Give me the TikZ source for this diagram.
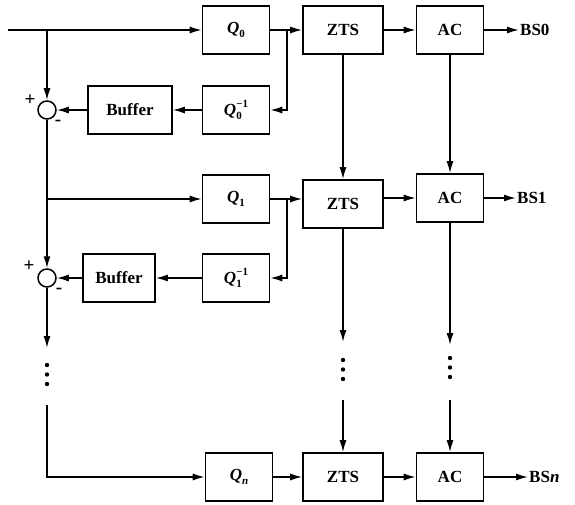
\documentclass[tikz,border=0pt]{standalone}
\usepackage{fontspec}
\setmainfont{Liberation Serif}
\usetikzlibrary{arrows.meta}
\newcommand{\scr}[1]{{\fontsize{11}{11}\selectfont #1}}
\newcommand{\qsub}[1]{\textit{Q}\raisebox{-0.5ex}{\scr{#1}}}
\newcommand{\qinv}[1]{\textit{Q}\rlap{\raisebox{-0.5ex}{\scr{#1}}}\raisebox{0.95ex}{\scr{−1}}}

\begin{document}
\begin{tikzpicture}[x=1pt,y=-1pt,
  blk/.style={draw,line width=1.6pt,minimum height=48pt,inner sep=0pt,
    font=\fontsize{17}{17}\selectfont\bfseries},
  sumc/.style={draw,circle,line width=1.5pt,minimum size=18pt,inner sep=0pt},
  arr/.style={line width=1.5pt,-{Latex[length=12pt,width=7pt]}},
  lbl/.style={right,inner sep=1pt,font=\fontsize{17}{17}\selectfont\bfseries},
  sgn/.style={inner sep=0pt,font=\fontsize{19}{19}\selectfont\bfseries}]
  \useasboundingbox (0,0) rectangle (575,505);
  % 第 0 层
  \node[blk,minimum width=67pt] (Q0) at (236,30) {\qsub{0}};
  \node[blk,minimum width=80pt] (Z0) at (343,30) {ZTS};
  \node[blk,minimum width=67pt] (A0) at (450,30) {AC};
  \node[lbl] (B0) at (519,30) {BS0};
  \node[blk,minimum width=67pt] (Qi0) at (236,110) {\qinv{0}};
  \node[blk,minimum width=84pt] (F0) at (130,110) {Buffer};
  \node[sumc] (S0) at (47,110) {};
  \node[sgn] (p0) at (30,100) {+};
  \node[sgn] (m0) at (58,123) {-};
  \coordinate (in) at (8,30);
  \coordinate (j0) at (47,30);
  \coordinate (k0) at (287,30);
  \draw[arr] (in) -- (Q0);
  \draw[arr] (j0) -- (S0);
  \draw[arr] (Q0) -- (Z0);
  \draw[arr] (Z0) -- (A0);
  \draw[arr] (A0) -- (B0);
  \draw[arr] (k0) |- (Qi0);
  \draw[arr] (Qi0) -- (F0);
  \draw[arr] (F0) -- (S0);
  % 第 1 层
  \node[blk,minimum width=67pt] (Q1) at (236,199) {\qsub{1}};
  \node[blk,minimum width=80pt] (Z1) at (343,204) {ZTS};
  \node[blk,minimum width=67pt] (A1) at (450,198) {AC};
  \node[lbl] (B1) at (516,198) {BS1};
  \node[blk,minimum width=67pt] (Qi1) at (236,278) {\qinv{1}};
  \node[blk,minimum width=72pt] (F1) at (119,278) {Buffer};
  \node[sumc] (S1) at (47,278) {};
  \node[sgn] (p1) at (29,266) {+};
  \node[sgn] (m1) at (59,291) {-};
  \coordinate (j1) at (47,199);
  \coordinate (k1) at (287,199);
  \draw[arr] (S0) -- (S1);
  \draw[arr] (j1) -- (Q1);
  \draw[arr] (Q1) -- (Q1 -| Z1.west);
  \draw[arr] (Z1.east |- A1) -- (A1);
  \draw[arr] (A1) -- (B1);
  \draw[arr] (k1) |- (Qi1);
  \draw[arr] (Qi1) -- (F1);
  \draw[arr] (F1) -- (S1);
  % 层间竖线
  \draw[arr] (Z0) -- (Z1);
  \draw[arr] (A0) -- (A1);
  % 省略号
  \coordinate (d0) at (47,348);
  \coordinate (d1) at (343,342);
  \coordinate (d2) at (450,345);
  \draw[arr] (S1) -- (d0);
  \draw[arr] (Z1) -- (d1);
  \draw[arr] (A1) -- (d2);
  \foreach \x/\y in {47/365, 343/360, 450/358}
    \foreach \k in {0,1,2}
      \fill (\x,\y+9.5*\k) circle (2.2pt);
  % 第 n 层
  \coordinate (u0) at (47,405);
  \coordinate (u1) at (343,400);
  \coordinate (u2) at (450,400);
  \node[blk,minimum width=67pt] (Qn) at (239,477) {\qsub{\textit{n}}};
  \node[blk,minimum width=80pt] (Zn) at (343,477) {ZTS};
  \node[blk,minimum width=67pt] (An) at (450,477) {AC};
  \node[lbl] (Bn) at (528,477) {BS\textit{n}};
  \draw[arr] (u0) |- (Qn);
  \draw[arr] (u1) -- (Zn);
  \draw[arr] (u2) -- (An);
  \draw[arr] (Qn) -- (Zn);
  \draw[arr] (Zn) -- (An);
  \draw[arr] (An) -- (Bn);
\end{tikzpicture}
\end{document}
